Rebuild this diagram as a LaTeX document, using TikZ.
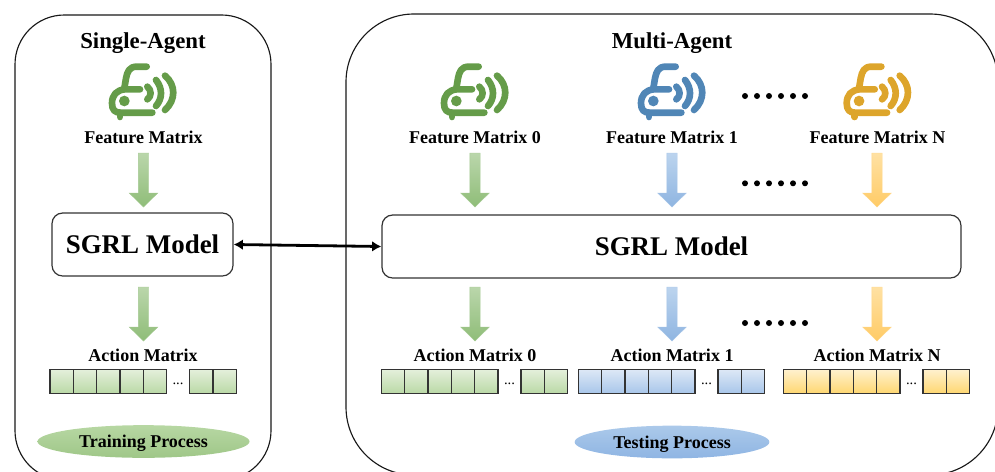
\documentclass[tikz,border=0pt]{standalone}
\usepackage{fontspec}
\setmainfont{Liberation Serif}
\definecolor{cg}{HTML}{659C49}
\definecolor{cb}{HTML}{5086B6}
\definecolor{cy}{HTML}{DDA52B}
\definecolor{agt}{HTML}{BAD6AB}
\definecolor{agb}{HTML}{8FBD78}
\definecolor{abt}{HTML}{BCD4EE}
\definecolor{abb}{HTML}{8FB5E1}
\definecolor{ayt}{HTML}{FFE1A3}
\definecolor{ayb}{HTML}{FFCB66}
\definecolor{mgt}{HTML}{E4EFDB}
\definecolor{mgb}{HTML}{BAD9A6}
\definecolor{mbt}{HTML}{DDE8F6}
\definecolor{mbb}{HTML}{A8C6EA}
\definecolor{myt}{HTML}{FFF1CE}
\definecolor{myb}{HTML}{FFD771}
\definecolor{pgt}{HTML}{B7D7A3}
\definecolor{pgb}{HTML}{9FC788}
\definecolor{pbt}{HTML}{ABC9EA}
\definecolor{pbb}{HTML}{8FB5E3}
\tikzset{
  frame/.style={draw=black!90,line width=0.85pt,rounded corners=37pt,inner sep=0pt,fill=none},
  framew/.style={draw=black!90,line width=0.85pt,rounded corners=51pt,inner sep=0pt,fill=none},
  model/.style={draw=black!80,line width=0.9pt,rounded corners=8pt,inner sep=0pt,fill=white,font=\bfseries\fontsize{20.2}{24}\selectfont},
  title/.style={font=\bfseries\fontsize{17.1}{20}\selectfont,inner sep=0pt},
  lab/.style={font=\bfseries\fontsize{13.5}{15}\selectfont,inner sep=0pt},
  cell/.style={draw=black!80,line width=0.95pt},
  proc/.style={ellipse,inner sep=0pt,text height=9pt,text depth=0pt,font=\bfseries\fontsize{13.5}{15}\selectfont},
  carline/.style={line width=5pt,line cap=round,line join=round},
  link/.style={line width=2.1pt,{Latex[length=7pt,width=8pt]}-{Latex[length=7pt,width=8pt]}},
}
\usetikzlibrary{arrows.meta,shapes.geometric}
% #1 x offset, #2 colour
\newcommand{\caricon}[2]{%
  \begin{scope}[shift={(90+#1,20)},x=0.25pt,y=-0.25pt]
    \draw[carline,#2] (170,140) -- (140,140) .. controls (118,140) and (112,155) .. (108,175) -- (103,205);
    \draw[carline,#2] (150,208) -- (105,208) .. controls (80,210) and (66,225) .. (66,250) .. controls (66,270) and (75,278) .. (92,278) -- (187,278);
    \draw[carline,#2] (90,280) -- (90,291);
    \fill[#2] (103,243) circle (16);
    \draw[carline,#2] (172,200) .. controls (185,210) and (185,230) .. (172,238);
    \draw[carline,#2] (198,180) .. controls (218,205) and (218,235) .. (198,258);
    \draw[carline,#2] (225,167) .. controls (258,195) and (258,240) .. (225,270);
  \end{scope}}
% #1 x, #2 y top, #3 y tip, #4 top colour, #5 bottom colour
\newcommand{\flowarrow}[5]{%
  \shade[top color=#4,bottom color=#5,draw=#5!80!white,line width=0.3pt]
    (#1-5.2,#2) -- (#1+5.2,#2) -- (#1+5.2,#3-14) -- (#1+14.3,#3-14) -- (#1,#3) -- (#1-14.3,#3-14) -- (#1-5.2,#3-14) -- cycle;}
% #1 x left, #2 top colour, #3 bottom colour
\newcommand{\cellrow}[3]{%
  \foreach \k in {0,...,4}{\shade[cell,top color=#2,bottom color=#3] ({#1+\k*23.3},369.5) rectangle ({#1+(\k+1)*23.3},393.5);}
  \foreach \k in {0,1}{\shade[cell,top color=#2,bottom color=#3] ({#1+139.5+\k*23.4},369.5) rectangle ({#1+139.5+(\k+1)*23.4},393.5);}
  \node[font=\fontsize{11}{12}\selectfont,inner sep=0pt] at (#1+128,384) {...};}
\newcommand{\dotrow}[1]{%
  \foreach \k in {0,...,5}{\fill (745+\k*12,#1) circle (3);}}
\begin{document}
\begin{tikzpicture}[x=0.75pt,y=-0.75pt]
\useasboundingbox (0,0) rectangle (995,471);
\clip (0,0) rectangle (995,471);
\node[frame,minimum width=192pt,minimum height=348.75pt] (fs) at (143,247.5) {};
\node[framew,minimum width=489pt,minimum height=345.75pt] (fm) at (672,244.5) {};

\node[title] (ts) at (143,43) {Single-Agent};
\node[title] (tm) at (672,43) {Multi-Agent};

\caricon{0}{cg}
\caricon{332}{cg}
\caricon{529}{cb}
\caricon{734.7}{cy}

\node[lab] (fa) at (143.5,137) {Feature Matrix};
\node[lab] (f0) at (475,137) {Feature Matrix 0};
\node[lab] (f1) at (672,137) {Feature Matrix 1};
\node[lab] (fn) at (877.5,137) {Feature Matrix N};

\dotrow{96}
\dotrow{183.3}
\dotrow{323}

\flowarrow{143.5}{153}{207}{agt}{agb}
\flowarrow{475}{153}{207}{agt}{agb}
\flowarrow{672}{153}{207}{abt}{abb}
\flowarrow{877}{153}{207}{ayt}{ayb}
\flowarrow{143.5}{287}{341}{agt}{agb}
\flowarrow{475}{287}{341}{agt}{agb}
\flowarrow{672}{287}{341}{abt}{abb}
\flowarrow{877}{287}{341}{ayt}{ayb}

\node[model,minimum width=135.75pt,minimum height=47.25pt] (ma) at (142.5,244.5) {SGRL Model};
\node[model,minimum width=434.25pt,minimum height=47.25pt] (mb) at (671.5,246.5) {SGRL Model};
\draw[link] (ma.east) -- (mb.west);

\node[lab] (aa) at (143,355) {Action Matrix};
\node[lab] (a0) at (475,355) {Action Matrix 0};
\node[lab] (a1) at (672,355) {Action Matrix 1};
\node[lab] (an) at (877,355) {Action Matrix N};

\cellrow{50}{mgt}{mgb}
\cellrow{381.5}{mgt}{mgb}
\cellrow{578.5}{mbt}{mbb}
\cellrow{783.5}{myt}{myb}

\node[proc,top color=pgt,bottom color=pgb,minimum width=159pt,minimum height=24.5pt] (pt) at (143.5,441.5) {Training Process};
\node[proc,top color=pbt,bottom color=pbb,minimum width=146pt,minimum height=24.5pt] (pm) at (672,442) {Testing Process};
\end{tikzpicture}
\end{document}
